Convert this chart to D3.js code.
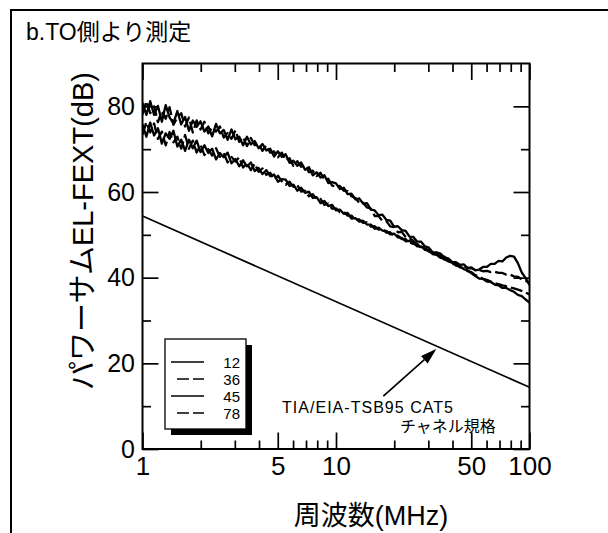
<!DOCTYPE html>
<html>
<head>
<meta charset="utf-8">
<script src="https://cdn.jsdelivr.net/npm/d3@7"></script>
<style>
  html, body { margin: 0; padding: 0; background: #fff; }
  svg { display: block; }
  text { font-family: "Liberation Sans", Arial, "Noto Sans CJK JP", sans-serif; fill: #000; }
</style>
</head>
<body>
<svg id="chart" width="608" height="533"></svg>
<script>
// ---- data -------------------------------------------------------------
const titleText = "b.TO側より測定";
const yTitle = "パワーサムEL-FEXT(dB)";
const xTitle = "周波数(MHz)";

// measurement frequencies (MHz)
const freqMHz = [1,1.047,1.096,1.148,1.202,1.259,1.318,1.380,1.445,1.514,1.585,1.660,1.738,1.820,1.905,
  1.995,2.089,2.188,2.291,2.399,2.512,2.630,2.754,2.884,3.020,3.162,3.311,3.467,3.631,3.802,
  3.981,4.169,4.365,4.571,4.786,5.012,5.248,5.495,5.754,6.026,6.310,6.607,6.918,7.244,7.586,7.943,8.318,8.710,9.120,9.550,
  10,10.47,10.96,11.48,12.02,12.59,13.18,13.80,14.45,15.14,15.85,16.60,17.38,18.20,19.05,19.95,20.89,21.88,22.91,23.99,
  25.12,26.30,27.54,28.84,30.20,31.62,33.11,34.67,36.31,38.02,39.81,41.69,43.65,45.71,47.86,50.12,52.48,54.95,57.54,60.26,
  63.10,66.07,69.18,72.44,75.86,79.43,83.18,87.10,91.20,95.50,100];

// power-sum EL-FEXT per pair (dB)
const pair12 = [80.8,78.0,81.2,78.0,80.1,76.4,80.3,77.4,76.0,78.9,75.8,77.5,74.3,76.7,75.2,
  76.5,74.1,75.3,73.0,75.9,73.7,74.5,72.2,74.6,72.3,72.9,70.9,72.9,71.1,71.9,
  70.2,71.2,69.7,70.1,68.3,69.5,68.2,68.8,66.8,67.3,66.1,66.9,65.2,65.8,63.9,64.6,63.4,63.9,62.1,62.3,
  62.0,60.7,61.0,59.5,59.6,58.3,58.5,57.3,57.4,55.9,55.7,54.6,54.7,53.5,53.3,51.9,52.0,51.1,50.9,49.6,
  49.5,48.4,48.4,47.3,47.0,45.9,45.9,45.6,44.7,44.5,43.7,43.6,43.0,43.1,42.3,42.4,41.7,41.9,42.5,42.5,
  43.2,43.2,43.9,43.8,44.7,45.1,44.9,43.4,41.2,39.9,38.3];
const pair36 = [78.1,81.2,78.4,80.0,76.3,79.0,77.1,79.8,75.7,77.4,78.4,75.3,77.4,73.9,76.7,
  74.6,76.4,73.7,75.1,74.1,75.3,72.7,73.8,72.4,74.4,71.7,72.8,70.7,72.6,70.9,
  71.3,69.6,70.9,69.2,69.5,68.1,69.2,67.4,67.9,66.1,67.2,65.9,66.3,64.6,65.0,63.7,64.5,62.8,63.1,61.5,
  61.3,61.4,60.3,60.2,59.0,58.6,57.5,57.5,56.4,56.1,54.4,54.4,53.2,53.2,52.0,51.8,50.6,50.7,49.5,49.2,
  48.6,47.8,47.6,46.7,46.5,45.6,45.6,45.0,44.9,44.1,43.6,43.3,42.8,42.7,42.2,42.2,41.8,41.8,41.5,41.6,
  41.3,41.4,41.1,41.1,40.7,40.7,40.3,40.2,39.6,39.3,38.7];
const pair45 = [75.8,72.9,76.2,73.2,74.9,71.3,73.7,72.4,74.3,70.6,72.2,69.6,72.2,70.2,72.0,
  69.3,70.9,69.1,70.1,67.6,69.1,68.1,69.2,66.7,67.7,66.0,67.4,66.0,66.9,64.9,
  65.6,64.2,65.1,63.7,64.1,62.4,63.0,62.9,61.4,61.7,60.3,61.0,59.8,60.1,58.6,58.8,57.4,57.9,56.7,57.0,
  55.7,55.9,54.9,55.1,53.8,53.9,53.1,53.3,52.4,52.4,51.4,51.7,51.0,50.9,50.1,50.3,49.4,49.3,48.5,48.6,
  48.1,47.3,47.3,46.5,46.4,45.5,45.3,44.6,44.5,43.8,43.5,42.8,42.7,42.0,41.7,41.0,40.4,39.8,39.7,39.1,
  39.0,38.4,38.2,37.6,37.6,37.1,36.7,36.0,35.7,34.9,34.2];
const pair78 = [73.4,76.3,73.9,76.0,72.4,74.1,70.9,74.0,71.6,72.9,70.1,73.3,70.1,72.0,69.2,
  71.0,68.6,70.0,68.5,70.2,68.2,69.1,66.9,68.2,67.1,68.1,65.7,66.7,65.1,66.6,
  64.7,65.5,64.0,64.5,62.9,63.8,62.5,61.7,62.4,61.2,61.6,60.1,60.3,59.0,59.5,58.3,58.4,57.0,57.3,56.1,
  56.2,55.3,55.4,54.5,54.5,53.5,53.6,52.8,52.9,51.9,52.0,51.2,51.4,50.5,50.6,49.7,49.8,49.0,49.0,48.2,
  47.9,47.6,47.0,46.7,46.1,45.8,45.1,44.9,44.2,44.0,43.3,43.0,42.4,42.2,41.5,41.3,40.6,40.3,39.7,39.5,
  39.1,38.7,38.5,38.2,38.0,37.7,37.5,37.2,36.9,36.5,36.1];

const seriesNames = ["12", "36", "45", "78"];
const seriesValues = [pair12, pair36, pair45, pair78];

// TIA/EIA-TSB95 CAT5 channel limit (straight in log frequency)
const limitFreq = [1, 100];
const limitValues = [54.4, 14.4];
const limitLabel1 = "TIA/EIA-TSB95 CAT5";
const limitLabel2 = "チャネル規格";
const arrowFreq = 33;

const xMajorTicks = [1, 5, 10, 50, 100];
const xMinorTicks = [2, 3, 4, 6, 7, 8, 9, 20, 30, 40, 60, 70, 80, 90];
const yMajorTicks = [0, 20, 40, 60, 80];
const yMinorTicks = [10, 30, 50, 70];

// ---- layout ------------------------------------------------------------
const plot = { left: 142.5, right: 529.5, top: 63.5, bottom: 449 };
const dashFor = name => (name === "36" || name === "78") ? "12,4" : null;

const x = d3.scaleLog().domain([1, 100]).range([plot.left, plot.right]);
const y = d3.scaleLinear().domain([0, 90]).range([plot.bottom, plot.top]);

const svg = d3.select("#chart");

// outer frame
svg.append("path").attr("d", "M11,533V10H608")
  .attr("fill", "none").attr("stroke", "#000").attr("stroke-width", 2);

svg.append("text").attr("x", 26).attr("y", 40).attr("font-size", 23).text(titleText);

// clip for curves
svg.append("clipPath").attr("id", "plotClip").append("rect")
  .attr("x", plot.left).attr("y", plot.top)
  .attr("width", plot.right - plot.left).attr("height", plot.bottom - plot.top);

// ---- axes --------------------------------------------------------------
function addAxis(axis, tx, ty, fontSize) {
  const g = svg.append("g").attr("transform", `translate(${tx},${ty})`).call(axis);
  g.select(".domain").remove();
  g.selectAll(".tick line").attr("stroke-width", 1.7);
  g.attr("font-family", null).attr("font-size", fontSize || 10);
  return g;
}
addAxis(d3.axisBottom(x).tickValues(xMajorTicks).tickFormat(d3.format("d")).tickSize(-16.5).tickPadding(8), 0, plot.bottom, 26);
addAxis(d3.axisBottom(x).tickValues(xMinorTicks).tickFormat("").tickSize(-8.5), 0, plot.bottom);
addAxis(d3.axisTop(x).tickValues(xMajorTicks).tickFormat("").tickSize(-16.5), 0, plot.top);
addAxis(d3.axisTop(x).tickValues(xMinorTicks).tickFormat("").tickSize(-8.5), 0, plot.top);
addAxis(d3.axisLeft(y).tickValues(yMajorTicks).tickFormat(d3.format("d")).tickSize(-16).tickPadding(7.5), plot.left, 0, 25);
addAxis(d3.axisLeft(y).tickValues(yMinorTicks).tickFormat("").tickSize(-8.5), plot.left, 0);
addAxis(d3.axisRight(y).tickValues(yMajorTicks).tickFormat("").tickSize(-16), plot.right, 0);
addAxis(d3.axisRight(y).tickValues(yMinorTicks).tickFormat("").tickSize(-8.5), plot.right, 0);

svg.append("rect")
  .attr("x", plot.left).attr("y", plot.top)
  .attr("width", plot.right - plot.left).attr("height", plot.bottom - plot.top)
  .attr("fill", "none").attr("stroke", "#000").attr("stroke-width", 2);

// axis titles
svg.append("text")
  .attr("transform", "translate(83,231) rotate(-90)")
  .attr("text-anchor", "middle").attr("dy", "0.35em")
  .attr("font-size", 29).text(yTitle);
svg.append("text")
  .attr("x", 371).attr("y", 525)
  .attr("text-anchor", "middle").attr("font-size", 27).text(xTitle);

// ---- curves ------------------------------------------------------------
const line = d3.line().x((d, i) => x(freqMHz[i])).y(d => y(d));
const curves = svg.append("g").attr("clip-path", "url(#plotClip)");
curves.selectAll("path.series")
  .data(seriesNames.map((n, k) => ({ name: n, values: seriesValues[k] })))
  .join("path")
  .attr("class", "series")
  .attr("d", d => line(d.values))
  .attr("fill", "none").attr("stroke", "#000").attr("stroke-width", 2.3)
  .attr("stroke-linejoin", "round")
  .attr("stroke-dasharray", d => dashFor(d.name));

// limit line
const limitLine = d3.line().x((d, i) => x(limitFreq[i])).y(d => y(d));
curves.append("path").attr("d", limitLine(limitValues))
  .attr("fill", "none").attr("stroke", "#000").attr("stroke-width", 1.7);

// ---- annotation --------------------------------------------------------
const tLim = Math.log10(arrowFreq) / Math.log10(limitFreq[1] / limitFreq[0]);
const tipX = x(arrowFreq);
const tipY = y(limitValues[0] + (limitValues[1] - limitValues[0]) * tLim) + 3;
const tailX = tipX - 53, tailY = tipY + 47;
const ang = Math.atan2(tipY - tailY, tipX - tailX);
const headL = 16, headW = 5;
const bx = tipX - headL * Math.cos(ang), by = tipY - headL * Math.sin(ang);
svg.append("line").attr("x1", tailX).attr("y1", tailY).attr("x2", bx).attr("y2", by)
  .attr("stroke", "#000").attr("stroke-width", 1.7);
svg.append("path")
  .attr("d", `M${tipX},${tipY}L${bx + headW * Math.sin(ang)},${by - headW * Math.cos(ang)}L${bx - headW * Math.sin(ang)},${by + headW * Math.cos(ang)}Z`)
  .attr("fill", "#000");
svg.append("text").attr("x", 282).attr("y", 413).attr("font-size", 16)
  .attr("textLength", 171).attr("lengthAdjust", "spacing").text(limitLabel1);
svg.append("text").attr("x", 400).attr("y", 432).attr("font-size", 16).text(limitLabel2);

// ---- legend ------------------------------------------------------------
const lg = { x: 165, y: 339, w: 81, h: 90, shadow: 6, row0: 362, rowStep: 17 };
svg.append("rect").attr("x", lg.x + lg.shadow).attr("y", lg.y + lg.shadow)
  .attr("width", lg.w).attr("height", lg.h).attr("fill", "#000");
svg.append("rect").attr("x", lg.x).attr("y", lg.y)
  .attr("width", lg.w).attr("height", lg.h)
  .attr("fill", "#fff").attr("stroke", "#000").attr("stroke-width", 1.3);
const rows = svg.append("g").selectAll("g").data(seriesNames).join("g")
  .attr("transform", (d, i) => `translate(0,${lg.row0 + i * lg.rowStep})`);
rows.append("line")
  .attr("x1", d => dashFor(d) ? 177 : 171).attr("x2", 204)
  .attr("stroke", "#000").attr("stroke-width", 1.7)
  .attr("stroke-dasharray", d => dashFor(d));
rows.append("text").attr("x", 240).attr("y", 5.5)
  .attr("text-anchor", "end").attr("font-size", 15).text(d => d);
</script>
</body>
</html>
